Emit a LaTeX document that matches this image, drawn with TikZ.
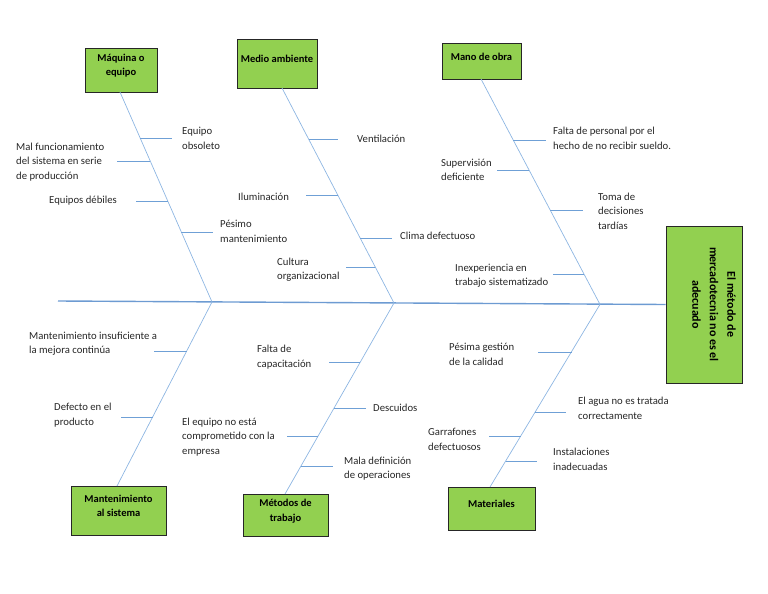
\documentclass[tikz,border=0pt]{standalone}
\usepackage{fontspec}
\setmainfont{Carlito}
\definecolor{boxgreen}{HTML}{92D050}
\definecolor{bonecol}{HTML}{8DB6E2}
\definecolor{branchcol}{HTML}{6FA0D6}
\definecolor{spinecol}{HTML}{6D9BD2}
\definecolor{txtcol}{HTML}{262626}
\begin{document}
\begin{tikzpicture}[x=1pt,y=-1pt,
  box/.style={draw=black!85, line width=0.8pt, fill=boxgreen, inner sep=0pt},
  boxlab/.style={font=\fontsize{10.5}{14.5}\selectfont\bfseries, align=center, text=black, inner sep=0pt},
  headlab/.style={font=\fontsize{12}{17.5}\selectfont\bfseries, align=center, text=black, inner sep=0pt},
  lab/.style={font=\fontsize{10.7}{14.5}\selectfont, align=left, anchor=west, inner sep=0pt, text=txtcol},
  bone/.style={draw=bonecol, line width=0.7pt},
  branch/.style={draw=branchcol, line width=0.7pt},
  spine/.style={draw=spinecol, line width=1.4pt}]
\useasboundingbox (0,0) rectangle (768,594);

% category boxes
\node[box, minimum width=72pt, minimum height=44pt,
  label={[boxlab, yshift=4.5pt]center:{Máquina o\\equipo}}] (maq) at (121,70) {};
\node[box, minimum width=80pt, minimum height=49pt,
  label={[boxlab, yshift=4.5pt]center:{Medio ambiente}}] (med) at (277,63.5) {};
\node[box, minimum width=79pt, minimum height=36pt,
  label={[boxlab, yshift=4.5pt]center:{Mano de obra}}] (man) at (481.5,61) {};
\node[box, minimum width=95pt, minimum height=49pt,
  label={[boxlab, yshift=4.5pt]center:{Mantenimiento\\al sistema}}] (mant) at (118.5,510.5) {};
\node[box, minimum width=85pt, minimum height=42pt,
  label={[boxlab, yshift=4pt]center:{Métodos de\\trabajo}}] (met) at (285.5,515) {};
\node[box, minimum width=87pt, minimum height=43pt,
  label={[boxlab, yshift=4.5pt]center:{Materiales}}] (mat) at (491.5,508.5) {};
% head
\node[box, minimum width=76pt, minimum height=157pt,
  label={[headlab, xshift=10pt, rotate=-90]center:{El método de\\mercadotecnia no es el\\adecuado}}] (head) at (704,304.5) {};

% spine
\coordinate (tail) at (58,301);
\coordinate (j1) at (212,302);
\coordinate (j2) at (394,303);
\coordinate (j3) at (600,304.4);
\draw[spine] (tail) -- (head.west);

% bones
\coordinate (t1) at (120,92);
\coordinate (t2) at (282,88);
\coordinate (t3) at (481,79);
\coordinate (bt1) at (117,486);
\coordinate (bt2) at (285,494);
\coordinate (bt3) at (490,487);
\draw[bone] (t1) -- (j1);
\draw[bone] (t2) -- (j2);
\draw[bone] (t3) -- (j3);
\draw[bone] (j1) -- (bt1);
\draw[bone] (j2) -- (bt2);
\draw[bone] (j3) -- (bt3);

% branches: Maquina o equipo
\coordinate (a1) at (139.8,138); \coordinate (a1e) at (172,138);
\coordinate (a2) at (149.9,161); \coordinate (a2e) at (117,161);
\coordinate (a3) at (167.5,201); \coordinate (a3e) at (136,201);
\coordinate (a4) at (181.2,232); \coordinate (a4e) at (213,232);
\draw[branch] (a1) -- (a1e);
\draw[branch] (a2) -- (a2e);
\draw[branch] (a3) -- (a3e);
\draw[branch] (a4) -- (a4e);
\node[lab] (n1) at (182,138.5) {Equipo\\obsoleto};
\node[lab] (n2) at (16,162) {Mal funcionamiento\\del sistema en serie\\de producción};
\node[lab] (n3) at (49,201) {Equipos débiles};
\node[lab] (n4) at (220,231.5) {Pésimo\\mantenimiento};

% Medio ambiente
\coordinate (b1) at (308.5,139); \coordinate (b1e) at (338,139);
\coordinate (b2) at (337.6,195); \coordinate (b2e) at (306,195);
\coordinate (b3) at (360.1,238); \coordinate (b3e) at (392,238);
\coordinate (b4) at (375.2,267); \coordinate (b4e) at (346,267);
\draw[branch] (b1) -- (b1e);
\draw[branch] (b2) -- (b2e);
\draw[branch] (b3) -- (b3e);
\draw[branch] (b4) -- (b4e);
\node[lab] (n5) at (357,139) {Ventilación};
\node[lab] (n6) at (238,197) {Iluminación};
\node[lab] (n7) at (400,236) {Clima defectuoso};
\node[lab] (n8) at (277,269.5) {Cultura\\organizacional};

% Mano de obra
\coordinate (c1) at (513.1,140); \coordinate (c1e) at (546,140);
\coordinate (c2) at (528.9,170); \coordinate (c2e) at (497,170);
\coordinate (c3) at (550,210); \coordinate (c3e) at (583,210);
\coordinate (c4) at (583.7,274); \coordinate (c4e) at (553,274);
\draw[branch] (c1) -- (c1e);
\draw[branch] (c2) -- (c2e);
\draw[branch] (c3) -- (c3e);
\draw[branch] (c4) -- (c4e);
\node[lab] (n9) at (553,138.5) {Falta de personal por el\\hecho de no recibir sueldo.};
\node[lab] (n10) at (441,170) {Supervisión\\deficiente};
\node[lab] (n11) at (598,211) {Toma de\\decisiones\\tardías};
\node[lab] (n12) at (455,275.5) {Inexperiencia en\\trabajo sistematizado};

% Mantenimiento al sistema
\coordinate (d1) at (186.7,351); \coordinate (d1e) at (154,351);
\coordinate (d2) at (152.6,417); \coordinate (d2e) at (121,417);
\draw[branch] (d1) -- (d1e);
\draw[branch] (d2) -- (d2e);
\node[lab] (n13) at (29,343.5) {Mantenimiento insuficiente a\\la mejora continúa};
\node[lab] (n14) at (54,415) {Defecto en el\\producto};

% Metodos de trabajo
\coordinate (e1) at (360.3,362); \coordinate (e1e) at (329,362);
\coordinate (e2) at (334.1,408); \coordinate (e2e) at (366,408);
\coordinate (e3) at (318.1,436); \coordinate (e3e) at (287,436);
\coordinate (e4) at (301,466); \coordinate (e4e) at (333,466);
\draw[branch] (e1) -- (e1e);
\draw[branch] (e2) -- (e2e);
\draw[branch] (e3) -- (e3e);
\draw[branch] (e4) -- (e4e);
\node[lab] (n15) at (257,357) {Falta de\\capacitación};
\node[lab] (n16) at (373,408) {Descuidos};
\node[lab] (n17) at (182,437) {El equipo no está\\comprometido con la\\empresa};
\node[lab] (n18) at (344,468.5) {Mala definición\\de operaciones};

% Materiales
\coordinate (f1) at (571.6,352); \coordinate (f1e) at (538,352);
\coordinate (f2) at (535.3,412); \coordinate (f2e) at (566,412);
\coordinate (f3) at (520.8,436); \coordinate (f3e) at (489,436);
\coordinate (f4) at (505.7,461); \coordinate (f4e) at (537,461);
\draw[branch] (f1) -- (f1e);
\draw[branch] (f2) -- (f2e);
\draw[branch] (f3) -- (f3e);
\draw[branch] (f4) -- (f4e);
\node[lab] (n19) at (449,354.5) {Pésima gestión\\de la calidad};
\node[lab] (n20) at (578,408.5) {El agua no es tratada\\correctamente};
\node[lab] (n21) at (428,439.5) {Garrafones\\defectuosos};
\node[lab] (n22) at (553,459.5) {Instalaciones\\inadecuadas};
\end{tikzpicture}
\end{document}
